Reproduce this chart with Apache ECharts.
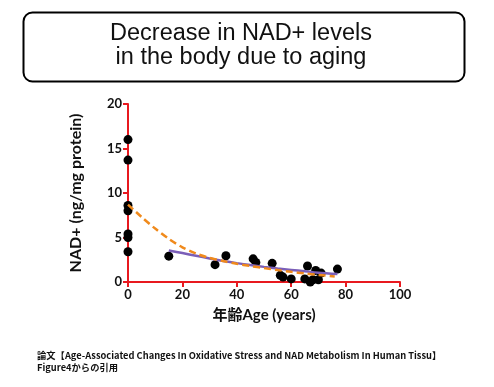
<!DOCTYPE html>
<html><head><meta charset="utf-8">
<script src="https://cdn.jsdelivr.net/npm/echarts@6/dist/echarts.min.js"></script>
<style>html,body{margin:0;padding:0;background:#fff}#c{width:494px;height:387px}</style>
</head><body><div id="c"></div>
<script>
// Scatter data (age in years, NAD+ ng/mg protein)
const pointAges = [0,0,0,0,0,0,0, 15,32,36,46,47,53,56,57,60,65,66,67,68,69,70,71,77];
const pointNad  = [16.0,13.7,8.6,8.0,5.4,5.0,3.4, 2.9,1.95,2.95,2.6,2.2,2.1,0.75,0.55,0.35,0.35,1.8,0,0.25,1.3,0.25,1.0,1.45];
// Orange dashed fitted curve
const orangeAges = [0,5,10,15,20,25,30,35,40,45,50,55,60,65,70,76];
const orangeNad  = [8.7,7.3,6.0,4.85,3.9,3.2,2.7,2.35,2.05,1.8,1.56,1.34,1.14,0.96,0.79,0.63];
// Purple fitted curve
const purpleAges = [15,20,25,30,35,40,45,50,55,60,65,70,77];
const purpleNad  = [3.55,3.25,2.95,2.65,2.37,2.12,1.9,1.7,1.52,1.36,1.2,1.05,0.9];
// Axis ticks
const xTicks = [0,20,40,60,80,100];
const yTicks = [0,5,10,15,20];

const titleLines = ['Decrease in NAD+ levels','in the body due to aging'];
const footLines = ['論文【Age-Associated Changes In Oxidative Stress and NAD Metabolism In Human Tissu】','Figure4からの引用'];

const zip = (a,b)=>a.map((v,i)=>[v,b[i]]);
const RED = '#e8191f';
const boldFont = 'Lato, "Noto Sans CJK JP", sans-serif';

const chart = echarts.init(document.getElementById('c'), null, {renderer:'canvas'});
chart.setOption({
  animation:false,
  backgroundColor:'#fff',
  grid:{left:128, right:94, top:104, bottom:105, containLabel:false},
  xAxis:{type:'value', min:xTicks[0], max:xTicks[xTicks.length-1], interval:20,
    name:'年齢Age (years)', nameLocation:'middle', nameGap:26,
    nameTextStyle:{fontFamily:boldFont, fontWeight:'bold', fontSize:15, color:'#111'},
    axisLine:{lineStyle:{color:RED, width:2}},
    axisTick:{show:true, length:5, lineStyle:{color:RED, width:2}},
    axisLabel:{fontFamily:boldFont, fontWeight:'bold', fontSize:13, color:'#111', margin:6},
    splitLine:{show:false}},
  yAxis:{type:'value', min:yTicks[0], max:yTicks[yTicks.length-1], interval:5,
    name:'NAD+ (ng/mg protein)', nameLocation:'middle', nameGap:44, nameRotate:90,
    nameTextStyle:{fontFamily:boldFont, fontWeight:'bold', fontSize:16, color:'#111'},
    axisLine:{lineStyle:{color:RED, width:2}},
    axisTick:{show:true, length:5, lineStyle:{color:RED, width:2}},
    axisLabel:{fontFamily:boldFont, fontWeight:'bold', fontSize:13, color:'#111', margin:6},
    splitLine:{show:false}},
  series:[
    {type:'line', data:zip(purpleAges,purpleNad), smooth:0.3, symbol:'none', z:3,
      lineStyle:{color:'#7b5fb8', width:2.5}},
    {type:'line', data:zip(orangeAges,orangeNad), smooth:0.3, symbol:'none', z:4,
      lineStyle:{color:'#f08a1c', width:2.5, type:[7,4]}},
    {type:'scatter', data:zip(pointAges,pointNad), symbol:'circle', symbolSize:9, clip:false, z:2,
      itemStyle:{color:'#000', opacity:1}}
  ],
  graphic:[
    {type:'rect', shape:{x:23.5, y:12.5, width:441, height:69, r:9},
      style:{fill:'#fff', stroke:'#000', lineWidth:2}},
    {type:'text', x:241, y:33.5, style:{text:titleLines[0], font:'23.5px "Liberation Sans", Arial, sans-serif', fill:'#111', align:'center', verticalAlign:'middle'}},
    {type:'text', x:241, y:57.5, style:{text:titleLines[1], font:'23.5px "Liberation Sans", Arial, sans-serif', fill:'#111', align:'center', verticalAlign:'middle'}},
    {type:'text', x:37, y:355, style:{text:footLines[0], font:'bold 9.3px "Noto Sans CJK JP", sans-serif', fill:'#111', align:'left', verticalAlign:'middle'}},
    {type:'text', x:37, y:367, style:{text:footLines[1], font:'bold 9.3px "Noto Sans CJK JP", sans-serif', fill:'#111', align:'left', verticalAlign:'middle'}}
  ]
});
</script></body></html>
